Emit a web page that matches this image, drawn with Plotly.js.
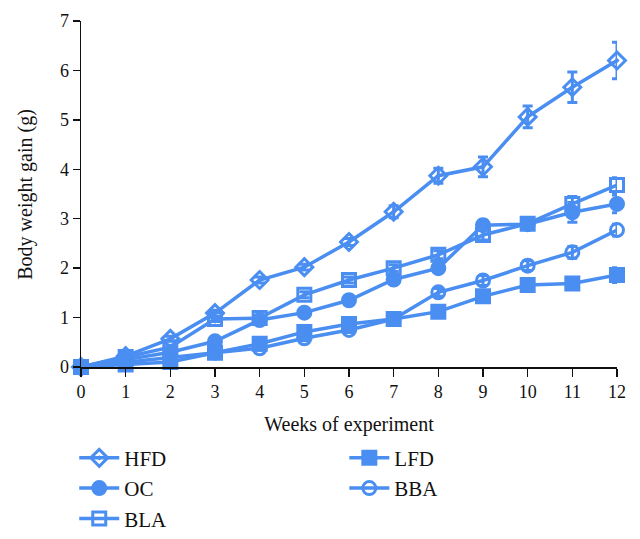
<!DOCTYPE html>
<html><head><meta charset="utf-8">
<script src="https://cdn.plot.ly/plotly-3.0.1.min.js"></script>
<style>html,body{margin:0;padding:0;background:#fff}#chart{width:640px;height:539px}</style>
</head><body><div id="chart"></div>
<script>
const weeks = [0,1,2,3,4,5,6,7,8,9,10,11,12];
const hfd = [0,0.22,0.57,1.09,1.76,2.02,2.53,3.14,3.87,4.05,5.06,5.66,6.2];
const hfdErr = [0.03,0.04,0.05,0.06,0.06,0.06,0.07,0.12,0.15,0.2,0.22,0.31,0.37];
const oc = [0,0.15,0.3,0.52,0.95,1.1,1.35,1.77,2.0,2.87,2.89,3.13,3.3];
const ocErr = [0.03,0.03,0.04,0.05,0.05,0.05,0.06,0.07,0.08,0.1,0.1,0.2,0.18];
const bla = [0,0.2,0.4,0.97,0.99,1.46,1.76,2.0,2.27,2.67,2.9,3.3,3.68];
const blaErr = [0.03,0.03,0.04,0.05,0.05,0.06,0.06,0.07,0.08,0.1,0.1,0.15,0.15];
const lfd = [0,0.05,0.1,0.29,0.47,0.71,0.87,0.97,1.12,1.43,1.66,1.69,1.86];
const lfdErr = [0.02,0.02,0.03,0.04,0.04,0.05,0.05,0.06,0.06,0.08,0.1,0.1,0.15];
const bba = [0,0.1,0.2,0.29,0.38,0.58,0.75,0.97,1.51,1.75,2.05,2.32,2.77];
const bbaErr = [0.02,0.02,0.03,0.04,0.04,0.05,0.05,0.06,0.08,0.1,0.1,0.12,0.12];
const yTitle = 'Body weight gain (g)';
const xTitle = 'Weeks of experiment';

const C = '#4A8EF1';
function tr(name, y, err, symbol, legend){
  return {
    x: weeks, y: y, name: name, type: 'scatter', mode: 'lines+markers',
    line: {color: C, width: 3.5},
    marker: {color: C, symbol: symbol, size: 13, line: {color: C, width: 3}},
    error_y: {type: 'data', array: err, visible: true, color: C, thickness: 3, width: 5},
    cliponaxis: false, legend: legend
  };
}
const data = [
  tr('HFD', hfd, hfdErr, 'diamond-open-dot', 'legend'),
  tr('OC', oc, ocErr, 'circle', 'legend'),
  tr('BLA', bla, blaErr, 'square-open', 'legend'),
  tr('LFD', lfd, lfdErr, 'square', 'legend2'),
  tr('BBA', bba, bbaErr, 'circle-open', 'legend2')
];
const font = {family: 'Liberation Serif, Times New Roman, serif', color: '#111', size: 18};
const legendCommon = {
  orientation: 'v', bgcolor: 'rgba(0,0,0,0)', font: {family: font.family, size: 21, color: '#111'},
  tracegroupgap: 0, itemwidth: 40, yanchor: 'top', xanchor: 'left', traceorder: 'normal',
  yref: 'container', xref: 'container'
};
const layout = {
  width: 640, height: 539,
  margin: {l: 81, r: 23, t: 21, b: 172, autoexpand: false},
  paper_bgcolor: '#fff', plot_bgcolor: '#fff',
  font: font,
  showlegend: true,
  xaxis: {
    range: [0, 12], tickvals: weeks, ticktext: weeks.map(String),
    showgrid: false, zeroline: false, showline: true, linecolor: '#111', linewidth: 1.5,
    ticks: 'outside', ticklen: 8, tickwidth: 1.5, tickcolor: '#111',
    tickfont: {family: font.family, size: 18, color: '#111'},
    title: {text: xTitle, font: {family: font.family, size: 20, color: '#111'}, standoff: 16}
  },
  yaxis: {
    range: [0, 7], tickvals: [0,1,2,3,4,5,6,7],
    showgrid: false, zeroline: false, showline: true, linecolor: '#111', linewidth: 1.5,
    ticks: 'outside', ticklen: 7, tickwidth: 1.5, tickcolor: '#111',
    tickfont: {family: font.family, size: 18, color: '#111'}
  },
  annotations: [{
    text: yTitle, xref: 'paper', yref: 'paper', x: -0.105, y: 0.5,
    xanchor: 'center', yanchor: 'middle', textangle: -90, showarrow: false,
    font: {family: font.family, size: 20, color: '#111'}
  }],
  legend: Object.assign({x: 0.116, y: 0.188}, legendCommon),
  legend2: Object.assign({x: 0.538, y: 0.188}, legendCommon)
};
Plotly.newPlot('chart', data, layout, {displayModeBar: false, staticPlot: true});
</script></body></html>
